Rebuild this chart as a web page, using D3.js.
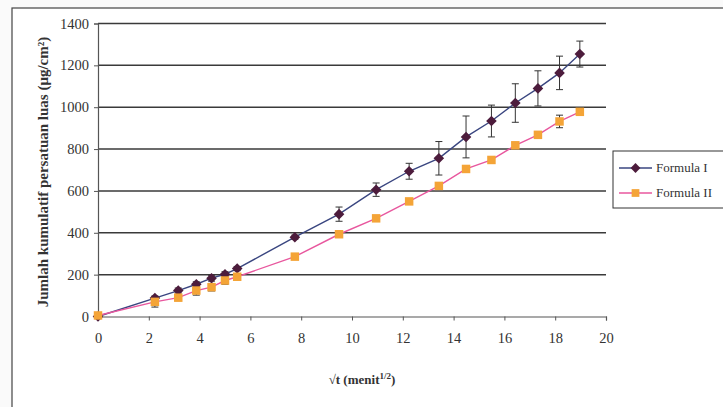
<!DOCTYPE html>
<html>
<head>
<meta charset="utf-8">
<script src="https://cdn.jsdelivr.net/npm/d3@7"></script>
<style>
  body { margin: 0; background: #fafafa; }
  svg { display: block; }
  .tick text { font-family: "Liberation Serif", "DejaVu Serif", serif; font-size: 14.5px; fill: #333; }
</style>
</head>
<body>
<div id="chart"></div>
<script>
// sqrt(t) in menit^1/2
var xVals = [0, 2.24, 3.16, 3.87, 4.47, 5.00, 5.48, 7.75, 9.49, 10.95, 12.25, 13.42, 14.49, 15.49, 16.43, 17.32, 18.17, 18.97];
// Formula I
var f1Vals = [0, 88, 124, 154, 183, 202, 229, 379, 489, 606, 694, 756, 858, 934, 1020, 1090, 1164, 1254];
var f1Err  = [0, 10, 12, 12, 14, 12, 10, 10, 34, 32, 38, 80, 100, 76, 92, 84, 80, 62];
// Formula II
var f2Vals = [5, 70, 90, 124, 140, 172, 190, 286, 393, 469, 550, 624, 705, 748, 818, 868, 932, 978];
var f2Err  = [0, 25, 14, 22, 18, 18, 12, 8, 8, 8, 8, 8, 10, 10, 12, 16, 30, 16];
var yTicks = [0, 200, 400, 600, 800, 1000, 1200, 1400];
var xTicks = [0, 2, 4, 6, 8, 10, 12, 14, 16, 18, 20];
var seriesNames = ['Formula I', 'Formula II'];

var width = 723, height = 407;
var svg = d3.select('#chart').append('svg')
    .attr('width', width)
    .attr('height', height);

// outer frame
svg.append('rect')
    .attr('x', 12).attr('y', 8)
    .attr('width', 740).attr('height', 420)
    .attr('fill', '#fff')
    .attr('stroke', '#444').attr('stroke-width', 1.2);

var x = d3.scaleLinear().domain([0, 20]).range([98, 606]);
var y = d3.scaleLinear().domain([0, 1400]).range([316.5, 23.5]);

// gridlines
svg.append('g').selectAll('line')
    .data(yTicks.slice(1))
    .enter().append('line')
    .attr('x1', x(0)).attr('x2', x(20))
    .attr('y1', function (d) { return y(d); })
    .attr('y2', function (d) { return y(d); })
    .attr('stroke', '#3a3a3a').attr('stroke-width', 1.5);

var yAxis = svg.append('g')
    .attr('transform', 'translate(' + x(0) + ',0)')
    .call(d3.axisLeft(y).tickValues(yTicks).tickSize(4).tickPadding(5).tickFormat(d3.format('d')));
var xAxis = svg.append('g')
    .attr('transform', 'translate(0,' + y(0) + ')')
    .call(d3.axisBottom(x).tickValues(xTicks).tickSize(4).tickPadding(12));
[xAxis, yAxis].forEach(function (g) {
    g.select('.domain').attr('stroke', '#555').attr('stroke-width', 1.2);
    g.selectAll('.tick line').attr('stroke', '#555');
});

var series = [
    { name: seriesNames[0], vals: f1Vals, err: f1Err, line: '#3a4680', mark: '#4d1c3c', shape: d3.symbolSquare, rot: 45 },
    { name: seriesNames[1], vals: f2Vals, err: f2Err, line: '#e8579e', mark: '#f4a437', shape: d3.symbolSquare, rot: 0 }
];

var lineGen = function (vals) {
    return d3.line()
        .x(function (d, i) { return x(xVals[i]); })
        .y(function (d) { return y(d); })(vals);
};

series.forEach(function (s) {
    svg.append('path')
        .attr('d', lineGen(s.vals))
        .attr('fill', 'none')
        .attr('stroke', s.line)
        .attr('stroke-width', 1.4);
});

series.forEach(function (s) {
    var g = svg.append('g');
    var eb = g.selectAll('g.eb')
        .data(s.vals.map(function (v, i) { return { x: xVals[i], v: v, e: s.err[i] }; }).filter(function (d) { return d.e > 0; }))
        .enter().append('g').attr('class', 'eb').attr('stroke', '#333').attr('stroke-width', 1);
    eb.append('line')
        .attr('x1', function (d) { return x(d.x); }).attr('x2', function (d) { return x(d.x); })
        .attr('y1', function (d) { return y(d.v + d.e); }).attr('y2', function (d) { return y(d.v - d.e); });
    eb.append('line')
        .attr('x1', function (d) { return x(d.x) - 3.5; }).attr('x2', function (d) { return x(d.x) + 3.5; })
        .attr('y1', function (d) { return y(d.v + d.e); }).attr('y2', function (d) { return y(d.v + d.e); });
    eb.append('line')
        .attr('x1', function (d) { return x(d.x) - 3.5; }).attr('x2', function (d) { return x(d.x) + 3.5; })
        .attr('y1', function (d) { return y(d.v - d.e); }).attr('y2', function (d) { return y(d.v - d.e); });
});

series.forEach(function (s) {
    svg.append('g').selectAll('path')
        .data(s.vals)
        .enter().append('path')
        .attr('transform', function (d, i) { return 'translate(' + x(xVals[i]) + ',' + y(d) + ') rotate(' + s.rot + ')'; })
        .attr('d', d3.symbol().type(s.shape).size(s.rot ? 56 : 72))
        .attr('fill', s.mark);
});

// axis titles
svg.append('text')
    .attr('transform', 'translate(48,' + 172 + ') rotate(-90)')
    .attr('text-anchor', 'middle')
    .style('font-family', '"Liberation Serif", serif')
    .style('font-weight', 'bold')
    .style('font-size', '15px')
    .attr('fill', '#333')
    .text('Jumlah kumulatif persatuan luas (μg/cm²)');

var xt = svg.append('text')
    .attr('x', 362).attr('y', 384)
    .attr('text-anchor', 'middle')
    .style('font-family', '"Liberation Serif", serif')
    .style('font-weight', 'bold')
    .style('font-size', '13px')
    .attr('fill', '#333');
xt.append('tspan').text('√t (menit');
xt.append('tspan').attr('dy', -5).style('font-size', '9px').text('1/2');
xt.append('tspan').attr('dy', 5).text(')');

// legend
var lg = svg.append('g');
lg.append('rect')
    .attr('x', 613).attr('y', 151)
    .attr('width', 120).attr('height', 57)
    .attr('fill', '#fff').attr('stroke', '#333').attr('stroke-width', 1);
series.forEach(function (s, i) {
    var ly = 168 + i * 25;
    lg.append('line')
        .attr('x1', 619).attr('x2', 652).attr('y1', ly).attr('y2', ly)
        .attr('stroke', s.line).attr('stroke-width', 1.4);
    lg.append('path')
        .attr('transform', 'translate(635.5,' + ly + ') rotate(' + s.rot + ')')
        .attr('d', d3.symbol().type(s.shape).size(s.rot ? 48 : 60))
        .attr('fill', s.mark);
    lg.append('text')
        .attr('x', 656).attr('y', ly + 4)
        .style('font-family', '"Liberation Serif", serif')
        .style('font-size', '13px')
        .attr('fill', '#333')
        .text(s.name);
});
</script>
</body>
</html>
